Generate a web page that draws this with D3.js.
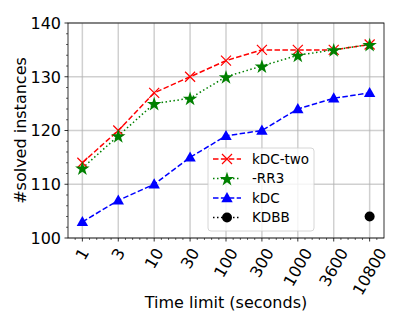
<!DOCTYPE html>
<html><head><meta charset="utf-8">
<script src="https://cdn.jsdelivr.net/npm/d3@7/dist/d3.min.js"></script>
<style>body{margin:0;background:#fff}svg{display:block;font-family:"DejaVu Sans",sans-serif}</style>
</head><body>
<svg id="c" width="415" height="311"></svg>
<script>
const timeLabels = ["1","3","10","30","100","300","1000","3600","10800"];
const kdcTwo = [114,120,127,130,133,135,135,135,136];
const rr3 = [113,119,125,126,130,132,134,135,136];
const kdc = [103,107,110,115,119,120,124,126,127];
const kdbbLabels = ["10800"];
const kdbb = [104];
const yTicks = [100,110,120,130,140];

const svg = d3.select("#c");
const L=68, R=384, T=23, B=238;
const x = d3.scaleLinear().domain([-0.4, 8.4]).range([L,R]);
const y = d3.scaleLinear().domain([100,140]).range([B,T]);
const xi = lbl => x(timeLabels.indexOf(lbl));

// grid
const g = svg.append("g");
g.selectAll(".gx").data(timeLabels).enter().append("line")
  .attr("x1",d=>xi(d)).attr("x2",d=>xi(d)).attr("y1",T).attr("y2",B)
  .attr("stroke","#b0b0b0").attr("stroke-opacity",0.6).attr("stroke-width",1.5);
g.selectAll(".gy").data(yTicks).enter().append("line")
  .attr("x1",L).attr("x2",R).attr("y1",d=>y(d)).attr("y2",d=>y(d))
  .attr("stroke","#b0b0b0").attr("stroke-opacity",0.6).attr("stroke-width",1.5);

// minor ticks
const xMinor = d3.range(-0.2, 8.3, 0.2).filter(v=>Math.abs(v-Math.round(v))>1e-6);
svg.selectAll(".mx").data(xMinor).enter().append("line")
  .attr("x1",d=>x(d)).attr("x2",d=>x(d)).attr("y1",B).attr("y2",B+2)
  .attr("stroke","#000").attr("stroke-width",0.6);
const yMinor = d3.range(100,141,2).filter(v=>v%10!==0);
svg.selectAll(".my").data(yMinor).enter().append("line")
  .attr("x1",L-2).attr("x2",L).attr("y1",d=>y(d)).attr("y2",d=>y(d))
  .attr("stroke","#000").attr("stroke-width",0.6);

// major ticks
svg.selectAll(".tx").data(timeLabels).enter().append("line")
  .attr("x1",d=>xi(d)).attr("x2",d=>xi(d)).attr("y1",B).attr("y2",B+3.5)
  .attr("stroke","#000").attr("stroke-width",0.8);
svg.selectAll(".ty").data(yTicks).enter().append("line")
  .attr("x1",L-3.5).attr("x2",L).attr("y1",d=>y(d)).attr("y2",d=>y(d))
  .attr("stroke","#000").attr("stroke-width",0.8);

// y tick labels
svg.selectAll(".ly").data(yTicks).enter().append("text")
  .attr("x",L-7).attr("y",d=>y(d)).attr("dy","0.36em")
  .attr("text-anchor","end").attr("font-size",16).text(d=>d);

// x tick labels rotated 60
const fs=16, hgt=fs*1.164, a=Math.PI/3;
timeLabels.forEach(lbl=>{
  const t = svg.append("text").attr("font-size",fs).attr("text-anchor","middle")
    .attr("dominant-baseline","central").text(lbl);
  const w = t.node().getComputedTextLength();
  const bh = w*Math.sin(a)+hgt*Math.cos(a);
  const cx = xi(lbl), cy = B+7+bh/2;
  t.attr("x",cx).attr("y",cy).attr("transform",`rotate(-60,${cx},${cy})`);
});

// axis labels
svg.append("text").attr("x",(L+R)/2).attr("y",307.5).attr("text-anchor","middle")
  .attr("font-size",16).text("Time limit (seconds)");
svg.append("text").attr("transform",`translate(26,${(T+B)/2}) rotate(-90)`)
  .attr("text-anchor","middle").attr("font-size",16).text("#solved instances");

// markers
function xMark(sel,cx,cy,s,col){
  sel.append("path").attr("d",`M${cx-s},${cy-s}L${cx+s},${cy+s}M${cx-s},${cy+s}L${cx+s},${cy-s}`)
    .attr("stroke",col).attr("stroke-width",1.2).attr("fill","none");
}
const starPath = d3.symbol().type(d3.symbolStar).size(65)();
const triPath = (cx,cy,s)=>`M${cx},${cy-s}L${cx+s*0.95},${cy+s*0.7}L${cx-s*0.95},${cy+s*0.7}Z`;

const series = [
  {vals:kdcTwo,col:"red",dash:"5.5,2.4",mk:"x"},
  {vals:rr3,col:"green",dash:"1.5,2.5",mk:"star"},
  {vals:kdc,col:"blue",dash:"5.5,2.4",mk:"tri"}
];
const line = d3.line().x((d,i)=>x(i)).y(d=>y(d));
series.forEach(s=>{
  svg.append("path").attr("d",line(s.vals)).attr("fill","none")
    .attr("stroke",s.col).attr("stroke-width",1.5).attr("stroke-dasharray",s.dash);
});
series.forEach(s=>{
  s.vals.forEach((v,i)=>{
    const cx=x(i), cy=y(v);
    if(s.mk==="x") xMark(svg,cx,cy,5,s.col);
    else if(s.mk==="star") svg.append("path").attr("d",starPath).attr("transform",`translate(${cx},${cy+0.8})`).attr("fill",s.col);
    else svg.append("path").attr("d",triPath(cx,cy,6)).attr("fill",s.col);
  });
});
kdbb.forEach((v,i)=>{
  svg.append("circle").attr("cx",xi(kdbbLabels[i])).attr("cy",y(v)).attr("r",5).attr("fill","#000");
});

// spine
svg.append("rect").attr("x",L).attr("y",T).attr("width",R-L).attr("height",B-T)
  .attr("fill","none").attr("stroke","#000").attr("stroke-width",0.8);

// legend
const lg = svg.append("g");
lg.append("rect").attr("x",208).attr("y",148).attr("width",106).attr("height",83).attr("rx",3)
  .attr("fill","#fff").attr("fill-opacity",0.8).attr("stroke","#cccccc").attr("stroke-width",0.8);
const entries = [
  {name:"kDC-two",col:"red",dash:"5.5,2.4",mk:"x"},
  {name:"-RR3",col:"green",dash:"1.5,2.5",mk:"star"},
  {name:"kDC",col:"blue",dash:"5.5,2.4",mk:"tri"},
  {name:"KDBB",col:"#000",dash:"1.5,2.5",mk:"circle"}
];
entries.forEach((e,i)=>{
  const ly = 159+i*19.5;
  lg.append("line").attr("x1",213).attr("x2",241).attr("y1",ly).attr("y2",ly)
    .attr("stroke",e.col).attr("stroke-width",1.5).attr("stroke-dasharray",e.dash);
  const cx=227;
  if(e.mk==="x") xMark(lg,cx,ly,5,e.col);
  else if(e.mk==="star") lg.append("path").attr("d",starPath).attr("transform",`translate(${cx},${ly+0.8})`).attr("fill",e.col);
  else if(e.mk==="tri") lg.append("path").attr("d",triPath(cx,ly,6)).attr("fill",e.col);
  else lg.append("circle").attr("cx",cx).attr("cy",ly).attr("r",5).attr("fill",e.col);
  lg.append("text").attr("x",252).attr("y",ly).attr("dy","0.36em").attr("font-size",13.5).text(e.name);
});
</script>
</body></html>
